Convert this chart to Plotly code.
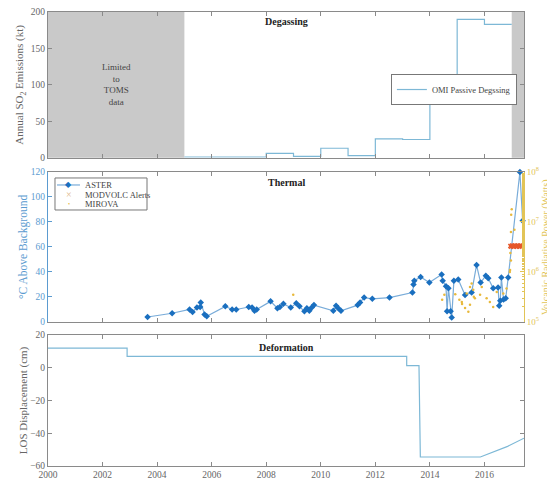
import plotly.graph_objects as go

# ---------------- data ----------------
omi_year = [2005, 2006, 2007, 2008, 2009, 2010, 2011, 2012, 2013, 2014, 2015, 2016, 2017]
omi_so2_kt = [1, 1, 1, 6, 2, 13, 3, 26, 25, 84, 190, 183, 183]
toms_period = [2000, 2005]
no_data_period = [2017, 2017.45]

aster_year = [2003.65, 2004.55, 2005.19, 2005.30, 2005.46, 2005.58, 2005.60, 2005.74, 2005.82,
              2006.50, 2006.75, 2006.90, 2007.36, 2007.48, 2007.57, 2007.65, 2008.16, 2008.41,
              2008.50, 2008.63, 2008.90, 2009.10, 2009.22, 2009.40, 2009.49, 2009.58, 2009.67,
              2009.75, 2010.46, 2010.56, 2010.64, 2010.74, 2011.35, 2011.44, 2011.59, 2011.89,
              2012.52, 2013.36, 2013.40, 2013.43, 2013.66, 2013.98, 2014.43, 2014.47, 2014.59,
              2014.63, 2014.68, 2014.76, 2014.80, 2014.88, 2015.04, 2015.29, 2015.53, 2015.71,
              2015.86, 2016.05, 2016.14, 2016.32, 2016.50, 2016.54, 2016.58, 2016.62, 2016.70,
              2016.78, 2016.87, 2017.30, 2017.40]
aster_degC = [4, 7, 10, 8, 11.5, 12, 15.5, 6, 4.5,
              12.5, 10, 10, 12, 11.5, 9, 10, 16.5, 11,
              12, 14.5, 11.5, 15, 12.5, 8.5, 11, 9, 11.5,
              13.5, 9, 13, 11, 9, 13.5, 15.5, 19.5, 18.5,
              19.5, 23.5, 30, 33, 36, 31.5, 38, 33, 28.5,
              8.5, 27, 8.5, 3.5, 33, 34, 21.5, 23.5, 45.5,
              31.5, 37, 35, 27, 27.5, 13, 17, 35.5, 18,
              19, 35.5, 120, 81]

modvolc_year = [2016.95, 2016.98, 2017.01, 2017.04, 2017.07, 2017.10, 2017.13, 2017.16,
                2017.19, 2017.22, 2017.25, 2017.28, 2017.31, 2017.34, 2017.37]
modvolc_watts = [3.3e6, 3.2e6, 3.4e6, 3.3e6, 3.2e6, 3.4e6, 3.3e6, 3.3e6,
                 3.2e6, 3.4e6, 3.3e6, 3.2e6, 3.4e6, 3.3e6, 3.3e6]

mirova_year = [2008.99, 2014.45, 2014.53, 2014.93, 2015.08, 2015.17, 2015.18, 2015.29, 2015.35,
               2015.41, 2015.47, 2015.47, 2015.53, 2015.59, 2015.61, 2015.65, 2015.84, 2015.90,
               2016.08, 2016.20, 2016.32, 2016.45, 2016.69, 2016.81, 2016.93, 2016.94, 2016.95,
               2016.97, 2016.97, 2016.98, 2017.00, 2017.10]
mirova_watts = [3.5e5, 2.8e5, 3.5e5, 3.6e5, 2.8e5, 2.5e5, 2.3e5, 1.9e5, 3.7e5,
                1.6e5, 5.0e5, 2.2e5, 5.9e5, 4.4e5, 3.2e5, 3.0e5, 3.5e5, 5.0e5,
                3.0e5, 2.5e5, 2.0e5, 4.0e5, 3.7e5, 4.7e5, 1.0e6, 1.1e6, 2.4e6,
                1.7e6, 6.3e6, 1.4e7, 1.8e7, 7.0e6]

los_year = [2000, 2002.9, 2002.9, 2013.15, 2013.15, 2013.6, 2013.65, 2015.85, 2016.85, 2017.45]
los_cm = [12, 12, 7, 7, 1.3, 1.3, -54.5, -54.5, -48, -43]

year_ticks = [2000, 2002, 2004, 2006, 2008, 2010, 2012, 2014, 2016]
x_range = [2000, 2017.45]

# ---------------- style ----------------
FONT = "Liberation Serif"
GRAY = "#8a8a8a"
TXT = "#666666"
STEP = "#7db8d6"
BLUE_TXT = "#5b9bd0"
ASTER_LINE = "#79acd9"
ASTER_MK = "#1a6fbf"
GOLD = "#e2c457"
MODV = "#e6582b"
MIRO = "#e8b93c"

fig = go.Figure()

fig.add_trace(go.Scatter(x=omi_year, y=omi_so2_kt, mode="lines", line=dict(color=STEP, width=1.2, shape="hv"),
                         name="OMI Passive Degssing", xaxis="x", yaxis="y", showlegend=True))

fig.add_trace(go.Scatter(x=mirova_year, y=mirova_watts, mode="markers", name="MIROVA",
                         marker=dict(color=MIRO, size=2.5), xaxis="x2", yaxis="y4", showlegend=False))
fig.add_trace(go.Scatter(x=modvolc_year, y=modvolc_watts, mode="markers", name="MODVOLC Alerts",
                         marker=dict(color=MODV, size=4, symbol="x-thin", line=dict(color=MODV, width=1.5)),
                         xaxis="x2", yaxis="y4", showlegend=False))
fig.add_trace(go.Scatter(x=aster_year, y=aster_degC, mode="lines+markers", name="ASTER",
                         line=dict(color=ASTER_LINE, width=1.2),
                         marker=dict(color=ASTER_MK, size=5, symbol="diamond"),
                         xaxis="x2", yaxis="y2", showlegend=False, cliponaxis=False))

fig.add_trace(go.Scatter(x=los_year, y=los_cm, mode="lines", line=dict(color=STEP, width=1.2),
                         name="LOS", xaxis="x3", yaxis="y3", showlegend=False))

tickfont = dict(family=FONT, size=9.5, color=TXT)
common_x = dict(range=x_range, tickvals=year_ticks, ticks="inside", ticklen=4, tickcolor=GRAY,
                showline=True, linecolor=GRAY, linewidth=1, mirror="ticks", showgrid=False,
                zeroline=False, tickfont=tickfont, automargin=False, ticklabeloverflow="allow")

fig.update_layout(
    width=555, height=478,
    margin=dict(l=40, r=39, t=4, b=20, autoexpand=False),
    paper_bgcolor="white", plot_bgcolor="white",
    font=dict(family=FONT, color=TXT),
    xaxis=dict(common_x, domain=[0, 1], anchor="y", showticklabels=False),
    xaxis2=dict(common_x, domain=[0, 1], anchor="y2", showticklabels=False),
    xaxis3=dict(common_x, domain=[0, 1], anchor="y3", showticklabels=True),
    yaxis=dict(domain=[0.679, 1.0], anchor="x", range=[0, 200], dtick=50, ticks="inside", ticklen=4,
               tickcolor=GRAY, showline=True, linecolor=GRAY, mirror="ticks", showgrid=False,
               zeroline=False, tickfont=tickfont, automargin=False, ticklabeloverflow="allow",
               title=dict(text="Annual SO<sub>2</sub> Emissions (kt)", font=dict(family=FONT, size=11, color=TXT),
                          standoff=4)),
    yaxis2=dict(domain=[0.3172, 0.6476], anchor="x2", range=[0, 120], dtick=20, ticks="inside", ticklen=4,
                tickcolor=BLUE_TXT, showline=True, linecolor=BLUE_TXT, mirror=False, showgrid=False,
                zeroline=False, tickfont=dict(family=FONT, size=9.5, color=BLUE_TXT), automargin=False,
                ticklabeloverflow="allow",
                title=dict(text="°C Above Background", font=dict(family=FONT, size=11.5, color=BLUE_TXT),
                           standoff=0)),
    yaxis4=dict(overlaying="y2", side="right", anchor="x2", type="log", range=[5, 8],
                tickvals=[1e5, 1e6, 1e7, 1e8],
                ticktext=["10<sup>5</sup>", "10<sup>6</sup>", "10<sup>7</sup>", "10<sup>8</sup>"],
                ticks="inside", ticklen=4, tickcolor=GOLD, showline=True, linecolor=GOLD, showgrid=False,
                zeroline=False, tickfont=dict(family=FONT, size=9, color=GOLD), automargin=False,
                ticklabeloverflow="allow",
                minor=dict(ticks="inside", ticklen=2, tickcolor=GOLD, showgrid=False)),
    yaxis3=dict(domain=[0, 0.2885], anchor="x3", range=[-60, 20], dtick=20, ticks="inside", ticklen=4,
                tickcolor=GRAY, showline=True, linecolor=GRAY, mirror="ticks", showgrid=False,
                zeroline=False, tickfont=tickfont, automargin=False, ticklabeloverflow="allow",
                title=dict(text="LOS Displacement (cm)", font=dict(family=FONT, size=11, color=TXT),
                           standoff=0)),
    legend=dict(x=0.8527, y=0.8634, xanchor="center", yanchor="top", bgcolor="white",
                bordercolor="#777777", borderwidth=1, font=dict(family=FONT, size=8.5, color="#444444"),
                itemwidth=30, tracegroupgap=0),
)

# right-axis title for the radiative power axis
fig.add_annotation(xref="paper", yref="y2 domain", x=1.046, y=0.5, text="Volcanic Radiative Power (Watts)",
                   textangle=-90, showarrow=False, xanchor="center", yanchor="middle",
                   font=dict(family=FONT, size=10, color=GOLD))

# gray shaded periods
for p in (toms_period, no_data_period):
    fig.add_shape(type="rect", xref="x", yref="y domain", x0=p[0], x1=p[1], y0=0, y1=1,
                  fillcolor="#c9c9c9", line=dict(width=0), layer="below")

fig.add_annotation(xref="x", yref="y", x=(toms_period[0] + toms_period[1]) / 2, y=100,
                   text="Limited<br>to<br>TOMS<br>data", showarrow=False, yanchor="middle",
                   font=dict(family=FONT, size=9, color="#444444"))

# panel titles
for ax, yy, t in (("y", 0.936, "Degassing"), ("y2", 0.933, "Thermal"), ("y3", 0.908, "Deformation")):
    fig.add_annotation(xref="x domain", yref=ax + " domain", x=0.5, y=yy, text="<b>%s</b>" % t,
                       showarrow=False, xanchor="center", yanchor="middle",
                       font=dict(family=FONT, size=10, color="#222222"))

# thermal panel legend (drawn)
fig.add_shape(type="rect", xref="paper", yref="paper", x0=0.0147, x1=0.208, y0=0.5639, y1=0.6344,
              line=dict(color="#777777", width=1), fillcolor="white")
fig.add_shape(type="line", xref="paper", yref="paper", x0=0.0189, x1=0.0672, y0=0.619, y1=0.619,
              line=dict(color=ASTER_LINE, width=1.2))
leg = [("ASTER", 0.619, "◆", ASTER_MK, 8), ("MODVOLC Alerts", 0.598, "×", "#e0b58a", 10),
       ("MIROVA", 0.577, "•", MIRO, 6)]
for name, yy, sym, col, sz in leg:
    fig.add_annotation(xref="paper", yref="paper", x=0.0431, y=yy, text=sym, showarrow=False,
                       font=dict(size=sz, color=col), xanchor="center", yanchor="middle")
    fig.add_annotation(xref="paper", yref="paper", x=0.0729, y=yy, text=name, showarrow=False,
                       font=dict(family=FONT, size=8.5, color="#444444"), xanchor="left", yanchor="middle")

fig.write_html("out.html")
